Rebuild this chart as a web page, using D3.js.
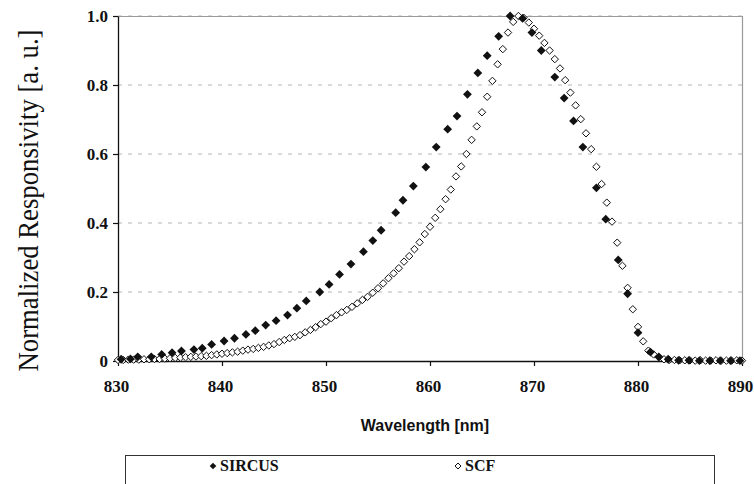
<!DOCTYPE html>
<html>
<head>
<meta charset="utf-8">
<script src="https://cdn.jsdelivr.net/npm/d3@7"></script>
<style>
  html, body { margin: 0; padding: 0; background: #fff; }
  svg { display: block; }
</style>
</head>
<body>
<svg id="chart" width="754" height="484"></svg>
<script>
// Spectral responsivity of the filter radiometer, normalized to peak
const sircusWavelength = [830.3, 831.2, 831.9, 833.2, 834.2, 835.2, 836.1, 837.3, 838.1, 839.0,
  840.2, 841.2, 842.3, 843.2, 844.2, 845.2, 846.3, 847.2, 848.1, 849.4,
  850.3, 851.3, 852.4, 853.6, 854.5, 855.3, 856.7, 857.4, 858.4, 859.6,
  860.6, 861.7, 862.6, 863.6, 864.6, 865.5, 866.6, 867.7, 868.9, 869.8,
  870.7, 872.0, 872.9, 873.8, 874.7, 876.0, 876.9, 878.1, 879.0, 880.0,
  881.2, 882.0, 882.9, 883.9, 884.9, 885.9, 886.9, 887.9, 888.9, 889.8];
const sircusValues = [0.005, 0.006, 0.012, 0.012, 0.019, 0.024, 0.029, 0.033, 0.037, 0.048,
  0.058, 0.066, 0.077, 0.088, 0.104, 0.117, 0.133, 0.153, 0.174, 0.200,
  0.222, 0.251, 0.281, 0.317, 0.349, 0.379, 0.430, 0.466, 0.507, 0.562,
  0.620, 0.672, 0.710, 0.773, 0.835, 0.885, 0.941, 1.000, 0.993, 0.952,
  0.900, 0.823, 0.762, 0.696, 0.620, 0.502, 0.411, 0.293, 0.195, 0.082,
  0.026, 0.012, 0.005, 0.002, 0.002, 0.001, 0.001, 0.001, 0.001, 0.001];

const scfWavelength = [830.0, 830.5, 831.0, 831.5, 832.0, 832.5, 833.0, 833.5, 834.0, 834.5,
  835.0, 835.5, 836.0, 836.5, 837.0, 837.5, 838.0, 838.5, 839.0, 839.5,
  840.0, 840.5, 841.0, 841.5, 842.0, 842.5, 843.0, 843.5, 844.0, 844.5,
  845.0, 845.5, 846.0, 846.5, 847.0, 847.5, 848.0, 848.5, 849.0, 849.5,
  850.0, 850.5, 851.0, 851.5, 852.0, 852.5, 853.0, 853.5, 854.0, 854.5,
  855.0, 855.5, 856.0, 856.5, 857.0, 857.5, 858.0, 858.5, 859.0, 859.5,
  860.0, 860.5, 861.0, 861.5, 862.0, 862.5, 863.0, 863.5, 864.0, 864.5,
  865.0, 865.5, 866.0, 866.5, 867.0, 867.5, 868.0, 868.5, 869.0, 869.5,
  870.0, 870.5, 871.0, 871.5, 872.0, 872.5, 873.0, 873.5, 874.0, 874.5,
  875.0, 875.5, 876.0, 876.5, 877.0, 877.5, 878.0, 878.5, 879.0, 879.5,
  880.0, 880.5, 881.0, 881.5, 882.0, 882.5, 883.0, 883.5, 884.0, 884.5,
  885.0, 885.5, 886.0, 886.5, 887.0, 887.5, 888.0, 888.5, 889.0, 889.5,
  890.0];
const scfValues = [0.003, 0.003, 0.004, 0.004, 0.004, 0.005, 0.005, 0.006, 0.006, 0.007,
  0.008, 0.009, 0.010, 0.011, 0.012, 0.013, 0.014, 0.015, 0.017, 0.019,
  0.021, 0.023, 0.025, 0.027, 0.030, 0.033, 0.035, 0.038, 0.041, 0.045,
  0.049, 0.055, 0.061, 0.066, 0.070, 0.075, 0.083, 0.090, 0.098, 0.107,
  0.114, 0.124, 0.133, 0.141, 0.148, 0.157, 0.167, 0.177, 0.186, 0.198,
  0.211, 0.225, 0.240, 0.254, 0.269, 0.288, 0.304, 0.324, 0.344, 0.368,
  0.389, 0.415, 0.440, 0.469, 0.497, 0.535, 0.564, 0.600, 0.641, 0.680,
  0.721, 0.766, 0.812, 0.860, 0.904, 0.952, 0.983, 1.000, 0.995, 0.981,
  0.963, 0.943, 0.922, 0.900, 0.875, 0.848, 0.814, 0.778, 0.741, 0.701,
  0.660, 0.614, 0.563, 0.513, 0.459, 0.404, 0.343, 0.276, 0.212, 0.150,
  0.099, 0.057, 0.030, 0.019, 0.011, 0.005, 0.003, 0.003, 0.002, 0.002,
  0.002, 0.001, 0.002, 0.001, 0.001, 0.002, 0.001, 0.001, 0.001, 0.002,
  0.001];

const xTicks = [830, 840, 850, 860, 870, 880, 890];
const yTicks = [0, 0.2, 0.4, 0.6, 0.8, 1.0];
const xTitle = "Wavelength [nm]";
const yTitle = "Normalized Responsivity [a. u.]";
const seriesNames = ["SIRCUS", "SCF"];

const serif = "'Liberation Serif', 'Times New Roman', serif";
const sans = "'Liberation Sans', Arial, sans-serif";

const svg = d3.select("#chart");
const plot = { left: 118, right: 742, top: 16, bottom: 361 };

const x = d3.scaleLinear().domain([830, 890]).range([plot.left, plot.right]);
const y = d3.scaleLinear().domain([0, 1]).range([plot.bottom, plot.top]);

// dashed horizontal gridlines
svg.append("g")
  .selectAll("line")
  .data(yTicks.filter(d => d > 0))
  .join("line")
  .attr("x1", plot.left).attr("x2", plot.right)
  .attr("y1", d => y(d)).attr("y2", d => y(d))
  .attr("stroke", "#b4b4b4")
  .attr("stroke-width", 1)
  .attr("stroke-dasharray", "4,6");

// plot area frame (top and right edges)
svg.append("path")
  .attr("d", `M${plot.left},${plot.top + 0.5}H${plot.right + 0.5}V${plot.bottom}`)
  .attr("fill", "none")
  .attr("stroke", "#9a9a9a")
  .attr("stroke-width", 1.2);

// axes
const xAxis = d3.axisBottom(x).tickValues(xTicks).tickSizeInner(5).tickSizeOuter(0).tickFormat(d3.format("d"));
const yAxis = d3.axisLeft(y).tickValues(yTicks).tickSizeInner(5).tickSizeOuter(0)
  .tickFormat(d => d === 0 ? "0" : d3.format(".1f")(d));

const gx = svg.append("g").attr("transform", `translate(0,${plot.bottom})`).call(xAxis);
const gy = svg.append("g").attr("transform", `translate(${plot.left},0)`).call(yAxis);

[gx, gy].forEach(g => {
  g.attr("font-family", null);
  g.select(".domain").attr("stroke", "#111").attr("stroke-width", 1.3);
  g.selectAll(".tick line").attr("stroke", "#111").attr("stroke-width", 1.2);
  g.selectAll(".tick text")
    .attr("fill", "#111")
    .attr("font-family", serif)
    .style("font-family", serif)
    .style("font-weight", "bold")
    .style("font-size", "17px");
});
gx.selectAll(".tick text").attr("dy", "0").attr("y", 31).attr("dx", "-2");
gy.selectAll(".tick text").attr("x", -10).attr("dy", "0.35em");

// axis titles
svg.append("text")
  .attr("x", 425).attr("y", 431)
  .attr("text-anchor", "middle")
  .style("font-family", sans)
  .style("font-weight", "bold")
  .style("font-size", "16px")
  .attr("fill", "#111")
  .text(xTitle);

svg.append("text")
  .attr("transform", `translate(38,${(plot.top + plot.bottom) / 2 + 12}) rotate(-90)`)
  .attr("text-anchor", "middle")
  .attr("textLength", 342)
  .attr("lengthAdjust", "spacingAndGlyphs")
  .style("font-family", serif)
  .style("font-size", "29px")
  .attr("fill", "#111")
  .text(yTitle);

// diamond marker path centred on the origin
const diamond = r => `M0,${-r}L${r},0L0,${r}L${-r},0Z`;

const sircus = sircusWavelength.map((w, i) => ({ w, v: sircusValues[i] }));
const scf = scfWavelength.map((w, i) => ({ w, v: scfValues[i] }));

svg.append("g")
  .selectAll("path")
  .data(scf)
  .join("path")
  .attr("transform", d => `translate(${x(d.w)},${y(d.v)})`)
  .attr("d", diamond(3.7))
  .attr("fill", "#fff")
  .attr("stroke", "#111")
  .attr("stroke-width", 1);

svg.append("g")
  .selectAll("path")
  .data(sircus)
  .join("path")
  .attr("transform", d => `translate(${x(d.w)},${y(d.v)})`)
  .attr("d", diamond(4.4))
  .attr("fill", "#111");

// legend
const legend = svg.append("g");
legend.append("rect")
  .attr("x", 125.5).attr("y", 455.5)
  .attr("width", 589).attr("height", 60)
  .attr("fill", "#fff")
  .attr("stroke", "#333")
  .attr("stroke-width", 1);

const legendItems = [
  { name: seriesNames[0], cx: 213, filled: true },
  { name: seriesNames[1], cx: 458, filled: false }
];
legendItems.forEach(item => {
  legend.append("path")
    .attr("transform", `translate(${item.cx},${466})`)
    .attr("d", diamond(item.filled ? 3.3 : 3))
    .attr("fill", item.filled ? "#111" : "#fff")
    .attr("stroke", item.filled ? "none" : "#111")
    .attr("stroke-width", 1);
  legend.append("text")
    .attr("x", item.cx + 7).attr("y", 471)
    .style("font-family", serif)
    .style("font-weight", "bold")
    .style("font-size", "16px")
    .attr("fill", "#111")
    .text(item.name);
});
</script>
</body>
</html>
